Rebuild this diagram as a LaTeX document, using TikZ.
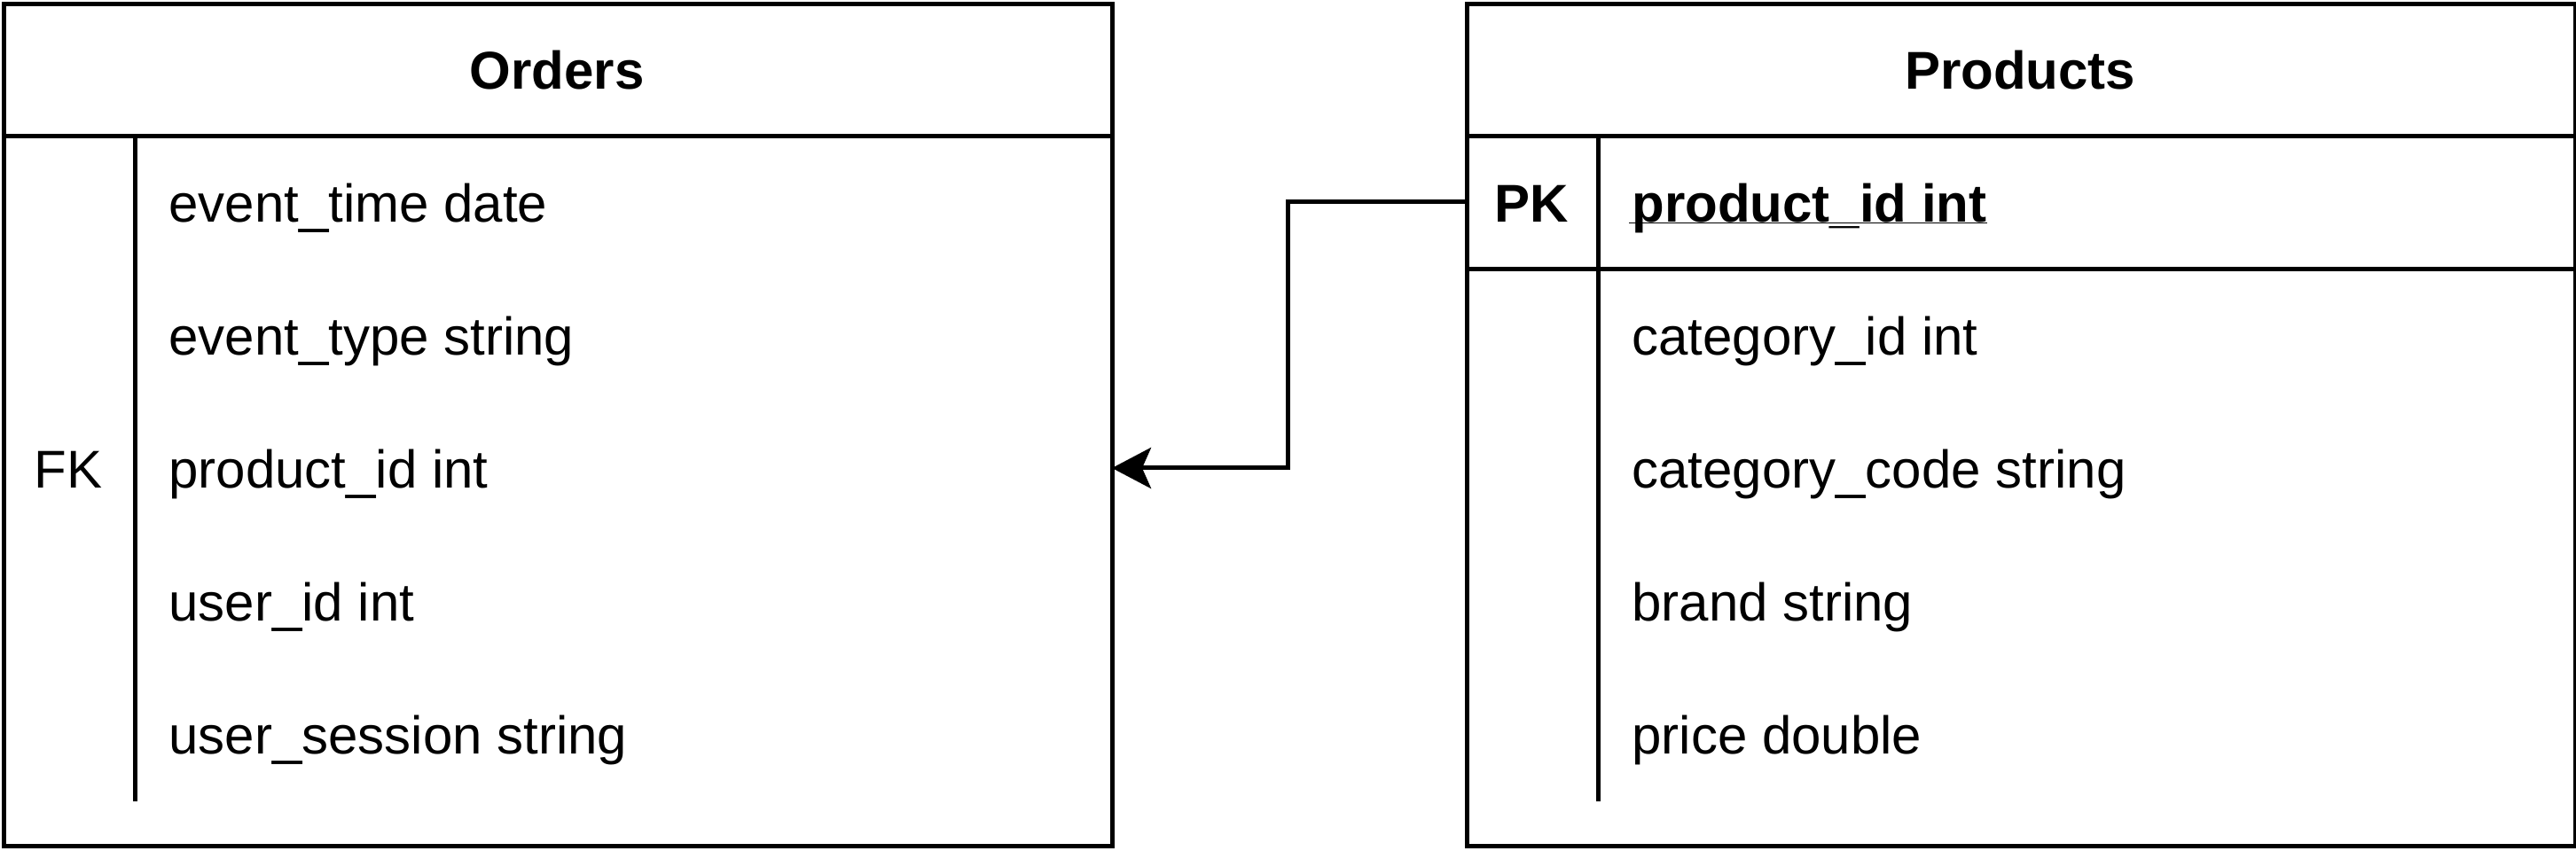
\documentclass[tikz,border=0pt]{standalone}
\usepackage{fontspec}
\setmainfont{Liberation Sans}
\usetikzlibrary{arrows.meta}
\begin{document}
\begin{tikzpicture}[x=1pt,y=-1pt,
  tbl/.style={draw, line width=1pt, rectangle, inner sep=0pt, anchor=north west, minimum width=250pt, minimum height=190pt},
  rowbox/.style={rectangle, inner sep=0pt, anchor=north west, minimum width=250pt, minimum height=30pt},
  sep/.style={line width=1pt},
  title/.style={font=\fontsize{12}{14}\selectfont\bfseries, inner sep=0pt, anchor=base},
  attr/.style={font=\fontsize{12}{14}\selectfont, inner sep=0pt, anchor=base west},
  keytxt/.style={font=\fontsize{12}{14}\selectfont, inner sep=0pt, anchor=base},
  conn/.style={line width=1pt, -{Stealth[length=8.8pt,width=9.2pt,inset=2pt]}}]
\useasboundingbox (0,0) rectangle (581,192);

% ---------- Orders ----------
\node[tbl] (orders) at (0.4,0.4) {};
\node[rowbox] (ohead) at (0.4,0.4) {};
\node[rowbox] (o1) at (0.4,30.4) {};
\node[rowbox] (o2) at (0.4,60.4) {};
\node[rowbox] (o3) at (0.4,90.4) {};
\node[rowbox] (o4) at (0.4,120.4) {};
\node[rowbox] (o5) at (0.4,150.4) {};
\draw[sep] (ohead.south west) -- (ohead.south east);
\draw[sep] ([xshift=30pt]o1.north west) -- ([xshift=30pt]o5.south west);
\node[title] (otitle) at ([yshift=-4.6pt]ohead.center) {Orders};
\node[attr] (oa1) at ([xshift=37.5pt,yshift=-4.6pt]o1.west) {event\_time date};
\node[attr] (oa2) at ([xshift=37.5pt,yshift=-4.6pt]o2.west) {event\_type string};
\node[attr] (oa3) at ([xshift=37.5pt,yshift=-4.6pt]o3.west) {product\_id int};
\node[attr] (oa4) at ([xshift=37.5pt,yshift=-4.6pt]o4.west) {user\_id int};
\node[attr] (oa5) at ([xshift=37.5pt,yshift=-4.6pt]o5.west) {user\_session string};
\node[keytxt] (ofk) at ([xshift=15pt,yshift=-4.6pt]o3.west) {FK};

% ---------- Products ----------
\node[tbl] (products) at (330.4,0.4) {};
\node[rowbox] (phead) at (330.4,0.4) {};
\node[rowbox] (p1) at (330.4,30.4) {};
\node[rowbox] (p2) at (330.4,60.4) {};
\node[rowbox] (p3) at (330.4,90.4) {};
\node[rowbox] (p4) at (330.4,120.4) {};
\node[rowbox] (p5) at (330.4,150.4) {};
\draw[sep] (phead.south west) -- (phead.south east);
\draw[sep] (p1.south west) -- (p1.south east);
\draw[sep] ([xshift=30pt]p1.north west) -- ([xshift=30pt]p5.south west);
\node[title] (ptitle) at ([yshift=-4.6pt]phead.center) {Products};
\node[keytxt, font=\fontsize{12}{14}\selectfont\bfseries] (ppk) at ([xshift=15pt,yshift=-4.6pt]p1.west) {PK};
\node[attr, font=\fontsize{12}{14}\selectfont\bfseries] (pa1) at ([xshift=37.5pt,yshift=-4.6pt]p1.west) {product\_id int};
\draw[line width=0.2pt] ([xshift=-0.5pt,yshift=-0.1pt]pa1.base west) -- ([yshift=-0.1pt]pa1.base east);
\node[attr] (pa2) at ([xshift=37.5pt,yshift=-4.6pt]p2.west) {category\_id int};
\node[attr] (pa3) at ([xshift=37.5pt,yshift=-4.6pt]p3.west) {category\_code string};
\node[attr] (pa4) at ([xshift=37.5pt,yshift=-4.6pt]p4.west) {brand string};
\node[attr] (pa5) at ([xshift=37.5pt,yshift=-4.6pt]p5.west) {price double};

% ---------- Connector ----------
\draw[conn] (p1.west) -- ++(-40,0) |- (o3.east);
\end{tikzpicture}
\end{document}
